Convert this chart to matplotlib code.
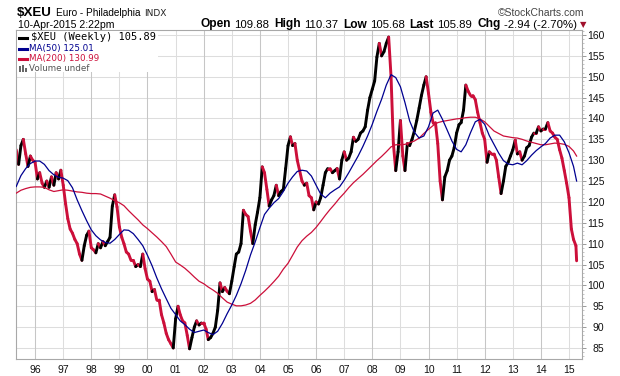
import matplotlib
matplotlib.use('Agg')
import matplotlib.pyplot as plt
import matplotlib.dates as mdates
from matplotlib.collections import LineCollection
from matplotlib.lines import Line2D
from matplotlib.patches import Rectangle
from matplotlib.ticker import MultipleLocator
import numpy as np
import pandas as pd

W, H = 620, 376

# ---------------- data ----------------
symbol = '$XEU'
name = 'Euro - Philadelphia'
exchange = 'INDX'
stamp = '10-Apr-2015 2:22pm'
stat_labels = ['Open', 'High', 'Low', 'Last', 'Chg']
stat_values = ['109.88', '110.37', '105.68', '105.89', '-2.94 (-2.70%)']
legend_rows = ['$XEU (Weekly) 105.89', 'MA(50) 125.01', 'MA(200) 130.99', 'Volume undef']

price_dates = list(pd.date_range('1995-05-01', '2015-04-01', freq='MS')) + [pd.Timestamp('2015-04-10')]
price = [
    132.5, 129, 133.5, 135, 131.5, 128.5, 131, 130,
    129.5, 125.5, 127, 124.5, 123.5, 125, 123.5, 126, 124, 127, 125.5, 127.6,
    124, 119.5, 116, 113.5, 112.5, 111, 110, 107.5, 106, 109.5, 112, 113,
    109, 108.5, 107.8, 110, 109, 110.5, 109.5, 110.5, 111.5, 119, 121.7, 118.8,
    114, 111.5, 110, 108, 107.5, 106, 106, 104.5, 105, 104.5, 107.5, 104,
    101.5, 101, 98.5, 99, 96.5, 96.5, 93, 91, 88.5, 87, 86, 85,
    92, 95, 93, 91.5, 91, 88, 84.8, 87.5, 90, 91.5, 90.5, 91,
    91, 89.5, 87, 87.5, 88.5, 90, 94, 100.6, 98.5, 99.5, 98.6, 98,
    101, 104.5, 107.5, 108, 110, 118, 117, 116.5, 113, 110, 114.5, 117.5,
    121, 128.4, 127, 123, 119, 120.5, 121.5, 124, 121.5, 122.5, 123, 128,
    133.5, 135.6, 133.5, 134, 130, 127.5, 125, 124, 124.5, 121.5, 121, 118.1,
    120, 119.5, 121, 124, 127, 128, 128, 127, 127.5, 128, 125.5, 130,
    132, 130, 130.5, 132, 135.5, 134.5, 135, 136.5, 137, 138, 142, 145,
    147, 149, 154.7, 158, 155, 156, 158, 159.5, 150, 134, 127.5, 132,
    139.5, 131, 127.5, 134, 133.5, 135, 137, 139.5, 142.5, 145.5, 148, 150,
    146, 141.5, 139, 139, 134, 125, 120.5, 126, 127.5, 130, 131, 133,
    136.5, 138.5, 139, 142, 148, 146.5, 145.5, 145.5, 144.5, 141.5, 139, 136.5,
    135, 129.5, 132, 131.5, 131.5, 130, 126, 122, 125, 128.5, 129.5, 131,
    132.5, 134.8, 131.5, 132, 130, 131, 133, 133.5, 135.5, 136.5, 136.5, 138,
    137, 137.5, 137.5, 139, 137, 136.5, 135.5, 135, 132.5, 130.5, 127.5, 124.5,
    121, 113.5, 111, 109.5, 105.89,
]

ma_dates = list(pd.date_range('1995-05-01', '2015-03-01', freq='2MS')) + [pd.Timestamp('2015-04-10')]
ma50 = [
    123.7, 126.3, 128, 129.2, 129.8, 129.8, 129, 127.5, 126.5, 125.9,
    125.7, 125.1, 123.4, 120.5, 117.9, 115.5, 113.3, 111.9, 110.9, 110.3,
    110.1, 111, 112.2, 113.3, 113.2, 112.4, 111, 109.5, 107.2, 104.7,
    101.8, 99.2, 96.8, 94.5, 93, 91.5, 90.6, 89.5, 88.7, 89,
    89.3, 88.7, 88.2, 89, 90.9, 93.2, 95.3, 97.6, 100.4, 103.6,
    107.3, 110.4, 113.8, 117, 118.5, 119.8, 120.8, 122.5, 124.5, 126,
    127.3, 127.6, 127.4, 126.2, 124, 121.9, 121, 122.1, 122.9, 123.6,
    125.2, 127, 129, 131, 133.3, 135.8, 138.6, 141.7, 144.6, 148,
    150.5, 149.8, 147.6, 143.8, 139.4, 136.7, 135.3, 135.8, 138, 141.3,
    142, 139.8, 137.2, 134.6, 132.6, 132, 133.7, 136.6, 139.2, 139.8,
    138.6, 135.9, 133.8, 131.7, 129.9, 129.1, 128.9, 129.3, 128.9, 129.9,
    131.2, 132.3, 133.2, 134, 135.3, 136, 136, 134.4, 131.8, 128.5,
    125.01,
]
ma200 = [
    122.1, 122.8, 123.2, 123.5, 123.6, 123.6, 123.5, 122.9, 122.5, 122.7,
    122.9, 122.8, 122.6, 122.4, 122.3, 122.1, 122, 122, 121.9, 121.4,
    120.9, 120.3, 119.8, 119.1, 117.9, 116.8, 115.7, 114.5, 113.6, 112.6,
    111.6, 110.5, 109.3, 107.5, 105.6, 104.9, 104.1, 103.1, 102, 101,
    100.4, 99.6, 98.9, 98.1, 97, 96, 95.5, 95.1, 95.1, 95.3,
    95.7, 96.5, 97.6, 98.6, 99.7, 100.9, 102.2, 103.9, 105.3, 107.2,
    109.2, 110.7, 111.8, 112.7, 113.9, 115.3, 116.8, 118.2, 119.5, 120.9,
    122.1, 123.4, 124.6, 125.6, 126.6, 127.7, 128.8, 129.9, 130.9, 132,
    133.2, 133.7, 133.7, 133.8, 134.2, 134.6, 135.3, 136.4, 137.4, 138.3,
    139, 139.3, 139.5, 139.7, 139.9, 140, 140.2, 140.3, 140.3, 139.9,
    139.2, 138.1, 137, 136.4, 135.8, 135.6, 135.4, 135.3, 135, 134.6,
    134.3, 134, 133.7, 133.7, 133.9, 134.1, 134, 133.8, 133.3, 132.2,
    130.99,
]

year_ticks = list(range(1996, 2016))
y_ticks = list(range(85, 161, 5))

# ---------------- style ----------------
RED = '#cc0f3a'
NAVY = '#000090'
GRID = '#dddddd'
GRID_DARK = '#c6c6c6'
SPINE = '#a8a8a8'
SANS = ['Liberation Sans', 'DejaVu Sans']

plt.rcParams['font.family'] = SANS


def fx(x):
    return x / W


def fy(y):
    return 1 - y / H


fig = plt.figure(figsize=(W / 100, H / 100), dpi=100)
fig.patch.set_facecolor('white')
ax = fig.add_axes([fx(16), fy(359), (582 - 16) / W, (359 - 30) / H])
ax.set_facecolor('white')

# gridlines
for yv in y_ticks:
    ax.axhline(yv, color=GRID, lw=0.75, zorder=0.5)
for yr in year_ticks:
    ax.axvline(pd.Timestamp(f'{yr}-01-01'), color=GRID_DARK if yr % 2 == 0 else GRID,
               lw=0.75, zorder=0.5)

# price line coloured by direction (black = up, red = down)
xd = mdates.date2num(price_dates)
yd = np.asarray(price, dtype=float)
pts = np.column_stack([xd, yd]).reshape(-1, 1, 2)
segs = np.concatenate([pts[:-1], pts[1:]], axis=1)
cols = ['black' if yd[i + 1] > yd[i] else RED for i in range(len(yd) - 1)]
lc = LineCollection(segs, colors=cols, linewidths=2.1, capstyle='round',
                    joinstyle='round', zorder=2)
ax.add_collection(lc)

# moving averages
ax.plot(ma_dates, ma200, color=RED, lw=0.9, zorder=3)
ax.plot(ma_dates, ma50, color=NAVY, lw=0.9, zorder=3)

ax.set_xlim(pd.Timestamp('1995-04-28'), pd.Timestamp('2015-06-19'))
ax.set_ylim(82.36, 161.2)

# axes styling
for s in ax.spines.values():
    s.set_color(SPINE)
    s.set_linewidth(0.8)

ax.set_xticks([pd.Timestamp(f'{yr}-01-01') for yr in year_ticks])
ax.set_xticklabels([f'{yr % 100:02d}' for yr in year_ticks])
ax.tick_params(axis='x', length=0, pad=4, labelsize=7.5, labelcolor='#111111')

ax.yaxis.tick_right()
ax.set_yticks(y_ticks)
ax.yaxis.set_minor_locator(MultipleLocator(1))
ax.tick_params(axis='y', which='major', length=3, width=0.7, color='#999999',
               pad=13, labelsize=7.5, labelcolor='#111111')
ax.tick_params(axis='y', which='minor', length=1.5, width=0.6, color='#bbbbbb')
for lab in ax.get_yticklabels():
    lab.set_horizontalalignment('right')

# ---------------- header ----------------
t_sym = fig.text(fx(17), fy(16), symbol, fontweight='bold', fontsize=9.6,
                 va='baseline', ha='left')
t_name = ax.annotate(name, xy=(1, H - 16), xycoords=(t_sym, 'figure pixels'),
                     xytext=(4, 0), textcoords='offset pixels', fontsize=7.2,
                     va='baseline', ha='left', annotation_clip=False)
ax.annotate(exchange, xy=(1, H - 16), xycoords=(t_name, 'figure pixels'),
            xytext=(4, 0), textcoords='offset pixels', family=['DejaVu Sans'],
            fontsize=6.5, va='baseline', ha='left', color='#222222',
            annotation_clip=False)
fig.text(fx(584), fy(16), '\u00a9StockCharts.com', fontsize=7.5, color='#444444',
         va='baseline', ha='right')
fig.text(fx(18), fy(27.5), stamp, fontsize=7.6, va='baseline', ha='left')

# stats row, built right to left
base_y = H - 27.5
tri = fig.text(fx(586), fy(27.5), '\u25bc', family=['DejaVu Sans'], fontsize=6,
               color='#a0102c', va='baseline', ha='right')
prev = tri
gap = 3
for lab, val in reversed(list(zip(stat_labels, stat_values))):
    v = ax.annotate(val, xy=(0, base_y), xycoords=(prev, 'figure pixels'),
                    xytext=(-gap, 0), textcoords='offset pixels',
                    fontsize=8.2, ha='right', va='baseline', annotation_clip=False)
    l = ax.annotate(lab, xy=(0, base_y), xycoords=(v, 'figure pixels'),
                    xytext=(-3, 0), textcoords='offset pixels',
                    fontsize=8.6, fontweight='bold', ha='right', va='baseline',
                    annotation_clip=False)
    prev = l
    gap = 5

# ---------------- legend ----------------
fig.add_artist(Rectangle((fx(17), fy(72)), (158 - 17) / W, (72 - 31) / H,
                         transform=fig.transFigure, facecolor='white',
                         edgecolor='none', zorder=1))
row_y = [37.5, 48.5, 58.5, 68.5]
row_cols = ['black', NAVY, RED, '#555555']
for i in range(3):
    fig.add_artist(Line2D([fx(19), fx(27)], [fy(row_y[i]), fy(row_y[i])],
                          transform=fig.transFigure, color=row_cols[i], lw=2.2,
                          zorder=4))
# volume icon
for bx, bh in [(19, 5), (22, 7), (25, 4)]:
    fig.add_artist(Rectangle((fx(bx), fy(71.5)), 2 / W, bh / H, transform=fig.transFigure,
                             facecolor='#666666', edgecolor='none', zorder=4))
fig.text(fx(31), fy(row_y[0]), legend_rows[0], family=['DejaVu Sans Mono'], fontsize=7.5,
         color=row_cols[0], va='center', ha='left', zorder=5)
for i in range(1, 4):
    fig.text(fx(29.5), fy(row_y[i]), legend_rows[i], family=['DejaVu Sans'], fontsize=6.3,
             color=row_cols[i], va='center', ha='left', zorder=5)

fig.savefig('out.png', dpi=100, facecolor='white')
